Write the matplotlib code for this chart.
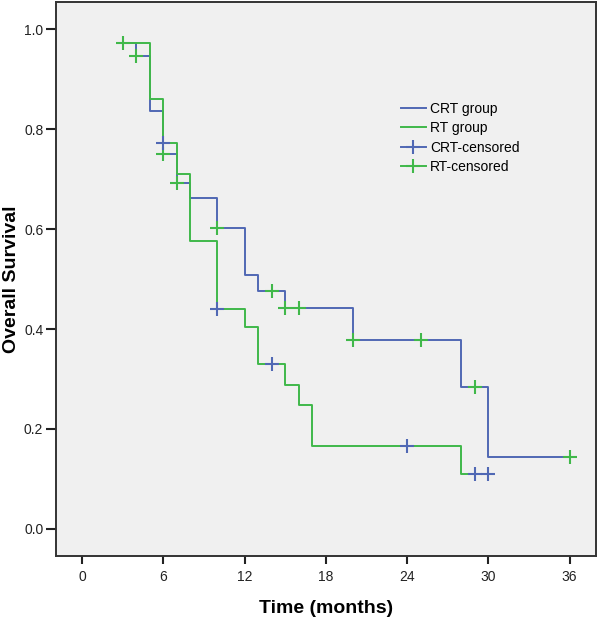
import matplotlib
matplotlib.use('Agg')
import matplotlib.pyplot as plt
import numpy as np
from matplotlib.lines import Line2D

plt.rcParams['font.family'] = ['Liberation Sans', 'DejaVu Sans']

# Kaplan-Meier step data
crt_times = [3, 4, 5, 6, 7, 8, 10, 12, 13, 15, 20, 28, 30, 36]
crt_surv = [0.973, 0.946, 0.837, 0.751, 0.693, 0.663, 0.603, 0.508, 0.477, 0.443, 0.379, 0.284, 0.143, 0.143]
rt_times = [3, 5, 6, 7, 8, 10, 12, 13, 15, 16, 17, 28, 30]
rt_surv = [0.973, 0.861, 0.773, 0.711, 0.576, 0.441, 0.404, 0.331, 0.289, 0.247, 0.166, 0.110, 0.110]

# censoring marks as drawn in the picture (marks on the CRT curve are green, marks on the RT curve are blue)
marks_on_crt_curve = [3, 4, 6, 7, 10, 14, 15, 16, 20, 25, 29, 36]
marks_on_rt_curve = [6, 10, 14, 24, 29, 30]

x_ticks = [0, 6, 12, 18, 24, 30, 36]
y_ticks = [0.0, 0.2, 0.4, 0.6, 0.8, 1.0]

BLUE = '#5068b4'
GREEN = '#40b84a'


def step_value(times, surv, t):
    i = np.searchsorted(times, t, side='right') - 1
    return surv[max(i, 0)]


fig = plt.figure(figsize=(6.0, 6.19), dpi=100)
ax = fig.add_axes([0.093, 0.102, 0.9, 0.895])
ax.set_facecolor('#f0f0f0')

ax.step(crt_times, crt_surv, where='post', color=BLUE, lw=1.4, zorder=3)
ax.step(rt_times, rt_surv, where='post', color=GREEN, lw=1.4, zorder=4)

crt_mark_y = [step_value(crt_times, crt_surv, t) for t in marks_on_crt_curve]
rt_mark_y = [step_value(rt_times, rt_surv, t) for t in marks_on_rt_curve]
ax.plot(marks_on_crt_curve, crt_mark_y, ls='none', marker='+', ms=10, mew=1.5, color=GREEN, zorder=5)
ax.plot(marks_on_rt_curve, rt_mark_y, ls='none', marker='+', ms=10, mew=1.5, color=BLUE, zorder=5)

ax.set_xlim(-1.94, 37.94)
ax.set_ylim(-0.054, 1.055)
ax.set_xticks(x_ticks)
ax.set_xticklabels([str(v) for v in x_ticks])
ax.set_yticks(y_ticks)
ax.set_yticklabels([f'{v:.1f}' for v in y_ticks])
ax.tick_params(axis='both', direction='out', width=1.5, labelsize=10, colors='#222222')
ax.tick_params(axis='x', length=6, pad=4)
ax.tick_params(axis='y', length=7, pad=2)
for s in ax.spines.values():
    s.set_linewidth(1.4)
    s.set_color('#333333')

ax.set_xlabel('Time (months)', fontsize=14, fontweight='bold', labelpad=12)
ax.set_ylabel('Overall Survival', fontsize=14, fontweight='bold')
ax.yaxis.set_label_coords(-0.066, 0.5)

handles = [
    Line2D([], [], color=BLUE, lw=1.4),
    Line2D([], [], color=GREEN, lw=1.4),
    Line2D([], [], color=BLUE, lw=1.4, marker='+', ms=10, mew=1.5),
    Line2D([], [], color=GREEN, lw=1.4, marker='+', ms=10, mew=1.5),
]
labels = ['CRT group', 'RT group', 'CRT-censored', 'RT-censored']
fig.legend(handles, labels, loc='upper left', bbox_to_anchor=(0.659, 0.845), frameon=False,
           fontsize=10, handlelength=1.8, handletextpad=0.3, labelspacing=0.4, borderaxespad=0)

fig.savefig('out.png', dpi=100, facecolor='white')
